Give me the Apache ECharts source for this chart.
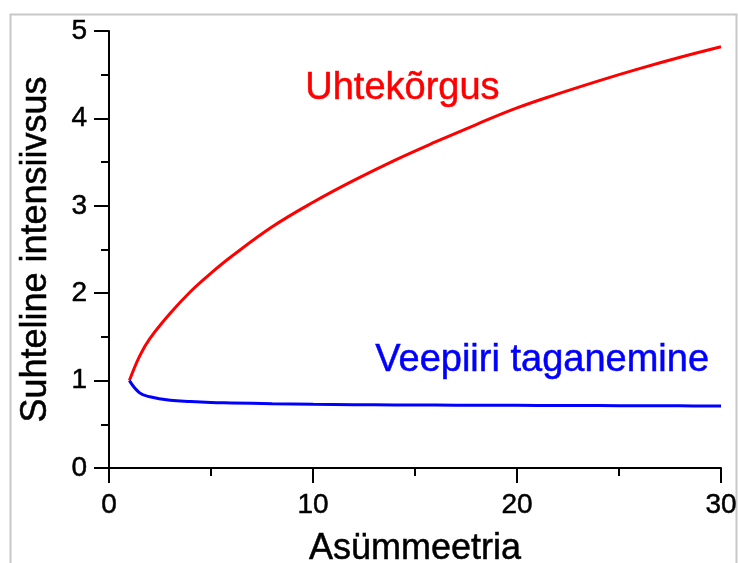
<!DOCTYPE html>
<html><head><meta charset="utf-8">
<script src="https://cdn.jsdelivr.net/npm/echarts@6/dist/echarts.min.js"></script>
<style>html,body{margin:0;padding:0;background:#fff}#c{width:738px;height:563px}</style>
</head><body><div id="c"></div>
<script>
const xValues = [1, 1.5, 2, 3, 4, 5, 6, 8, 10, 12, 14, 16, 18, 20, 22, 24, 26, 28, 30];
const uhtekorgus = [1.0, 1.28, 1.48, 1.77, 2.02, 2.23, 2.42, 2.76, 3.04, 3.29, 3.52, 3.73, 3.93, 4.12, 4.28, 4.43, 4.57, 4.70, 4.82];
const veepiiri = [1.0, 0.86, 0.815, 0.775, 0.76, 0.75, 0.745, 0.735, 0.728, 0.725, 0.722, 0.72, 0.718, 0.717, 0.715, 0.714, 0.713, 0.711, 0.71];
const xTitle = 'Asümmeetria';
const yTitle = 'Suhteline intensiivsus';
const redLabel = 'Uhtekõrgus';
const blueLabel = 'Veepiiri taganemine';

const FONT = 'Arial, "Liberation Sans", sans-serif';
const chart = echarts.init(document.getElementById('c'), null, {renderer: 'canvas'});
const axisCommon = {
  axisLine: {show: true, lineStyle: {color: '#000', width: 2}},
  axisTick: {show: true, length: 15, lineStyle: {color: '#000', width: 2}},
  minorTick: {show: true, splitNumber: 2, length: 8, lineStyle: {color: '#000', width: 2}},
  splitLine: {show: false},
  minorSplitLine: {show: false},
  nameTextStyle: {fontFamily: FONT, fontSize: 36, color: '#000', textBorderColor: '#000', textBorderWidth: 0.5}
};
chart.setOption({
  animation: false,
  backgroundColor: '#fff',
  grid: {left: 109, right: 17, top: 31, bottom: 95, containLabel: false, outerBoundsMode: 'none'},
  xAxis: Object.assign({
    type: 'value', min: 0, max: 30, interval: 10,
    name: xTitle, nameLocation: 'middle', nameGap: 63,
    axisLabel: {fontFamily: FONT, fontSize: 28, color: '#000', margin: 23, textBorderColor: '#000', textBorderWidth: 0.5}
  }, axisCommon),
  yAxis: Object.assign({
    type: 'value', min: 0, max: 5, interval: 1,
    name: yTitle, nameLocation: 'middle', nameGap: 55,
    axisLabel: {fontFamily: FONT, fontSize: 28, color: '#000', margin: 22, textBorderColor: '#000', textBorderWidth: 0.5}
  }, axisCommon),
  series: [
    {type: 'line', data: xValues.map((x, i) => [x, uhtekorgus[i]]), showSymbol: false, smooth: 0.4,
     lineStyle: {color: '#ff0000', width: 3}},
    {type: 'line', data: xValues.map((x, i) => [x, veepiiri[i]]), showSymbol: false, smooth: 0.4,
     lineStyle: {color: '#0000ff', width: 3}}
  ],
  graphic: [
    {type: 'rect', shape: {x: 10.5, y: 14.5, width: 726, height: 620}, style: {fill: 'none', stroke: '#c8c8c8', lineWidth: 2}, silent: true, z: -1},
    {type: 'text', left: 305, top: 69, style: {text: redLabel, fill: '#ff0000', font: '38px ' + FONT, stroke: '#ff0000', lineWidth: 0.5}},
    {type: 'text', left: 375, top: 341, style: {text: blueLabel, fill: '#0000ff', font: '38px ' + FONT, stroke: '#0000ff', lineWidth: 0.5}}
  ]
});
</script></body></html>
